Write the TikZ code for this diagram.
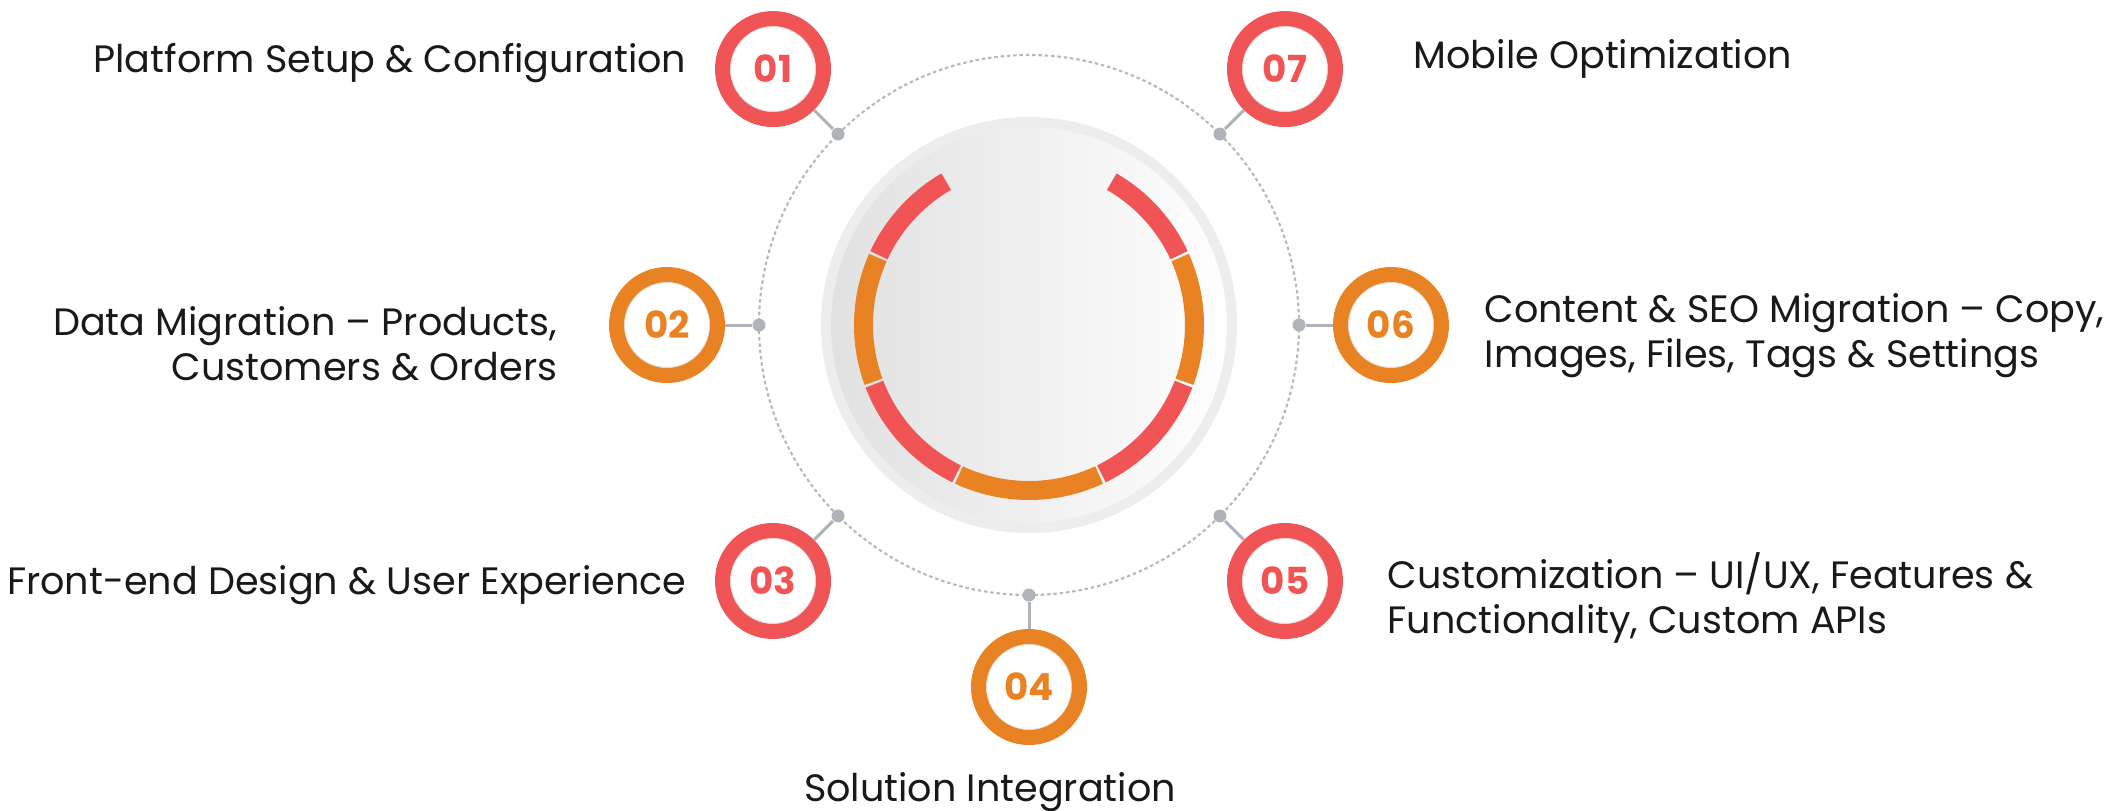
\documentclass[tikz,border=0pt]{standalone}
\usepackage{fontspec}
\setmainfont{Poppins}
\usepackage{tikz}
\usetikzlibrary{positioning}

\definecolor{stepred}{HTML}{F05454}
\definecolor{steporange}{HTML}{E98222}
\definecolor{pingray}{HTML}{AEB4BA}
\definecolor{trackgray}{HTML}{B8B8B8}

\begin{document}
\begin{tikzpicture}[
    stepnode/.style={circle, draw=#1, line width=0.15cm, fill=white, minimum size=1.01cm, inner sep=0pt,
      text=#1, font=\fontsize{10.6}{12}\selectfont\bfseries,
      path picture={\draw[black!10, line width=0.6pt] (path picture bounding box.center) circle[radius=0.43cm];}},
    pindot/.style={circle, fill=pingray, minimum size=0.13cm, inner sep=0pt},
    stem/.style={draw=pingray, line width=0.03cm},
    steptext/.style={font=\fontsize{10.85}{12.8}\selectfont, inner sep=0pt, text=black!90},
    ringarc/.style={line width=0.19cm}
  ]
  \useasboundingbox (-10.29,3.25) rectangle (10.84,-4.85);

  % hub in the middle
  \node[circle, minimum size=4.06cm, draw=black!7, line width=0.1cm, left color=black!12, right color=white] (hub) at (0,0) {};
  \draw[ringarc, stepred] (60:1.655) arc[start angle=60, end angle=24.95, radius=1.655];
  \draw[ringarc, steporange] (24.05:1.655) arc[start angle=24.05, end angle=-20.05, radius=1.655];
  \draw[ringarc, stepred] (-20.95:1.655) arc[start angle=-20.95, end angle=-64.05, radius=1.655];
  \draw[ringarc, steporange] (-64.95:1.655) arc[start angle=-64.95, end angle=-115.05, radius=1.655];
  \draw[ringarc, stepred] (-115.95:1.655) arc[start angle=-115.95, end angle=-159.05, radius=1.655];
  \draw[ringarc, steporange] (-159.95:1.655) arc[start angle=-159.95, end angle=-204.05, radius=1.655];
  \draw[ringarc, stepred] (-204.95:1.655) arc[start angle=-204.95, end angle=-240, radius=1.655];

  \draw[trackgray, line width=0.6pt, dash pattern=on 1pt off 0.8pt] (hub.center) circle[radius=2.7];

  % steps
  \node[stepnode=stepred] (s1) at (135:3.62) {01};
  \node[stepnode=steporange] (s2) at (180:3.62) {02};
  \node[stepnode=stepred] (s3) at (225:3.62) {03};
  \node[stepnode=steporange] (s4) at (270:3.62) {04};
  \node[stepnode=stepred] (s5) at (315:3.62) {05};
  \node[stepnode=steporange] (s6) at (0:3.62) {06};
  \node[stepnode=stepred] (s7) at (45:3.62) {07};

  \node[pindot] (d1) at (135:2.7) {};
  \node[pindot] (d2) at (180:2.7) {};
  \node[pindot] (d3) at (225:2.7) {};
  \node[pindot] (d4) at (270:2.7) {};
  \node[pindot] (d5) at (315:2.7) {};
  \node[pindot] (d6) at (0:2.7) {};
  \node[pindot] (d7) at (45:2.7) {};

  \draw[stem] (s1) -- (d1);
  \draw[stem] (s2) -- (d2);
  \draw[stem] (s3) -- (d3);
  \draw[stem] (s4) -- (d4);
  \draw[stem] (s5) -- (d5);
  \draw[stem] (s6) -- (d6);
  \draw[stem] (s7) -- (d7);

  % texts (base of a two-line node is its last line)
  \node[steptext, anchor=base east] (t1) at (-3.42,2.53) {Platform Setup \& Configuration};
  \node[steptext, anchor=base east, align=right] (t2) at (-4.71,-0.55) {Data Migration – Products,\\Customers \& Orders};
  \node[steptext, anchor=base east] (t3) at (-3.42,-2.69) {Front-end Design \& User Experience};
  \node[steptext, anchor=base] (t4) at (-0.39,-4.76) {Solution Integration};
  \node[steptext, anchor=base west, align=left] (t5) at (3.58,-3.08) {Customization – UI/UX, Features \&\\Functionality, Custom APIs};
  \node[steptext, anchor=base west, align=left] (t6) at (4.55,-0.42) {Content \& SEO Migration – Copy,\\Images, Files, Tags \& Settings};
  \node[steptext, anchor=base west] (t7) at (3.84,2.57) {Mobile Optimization};
\end{tikzpicture}
\end{document}
